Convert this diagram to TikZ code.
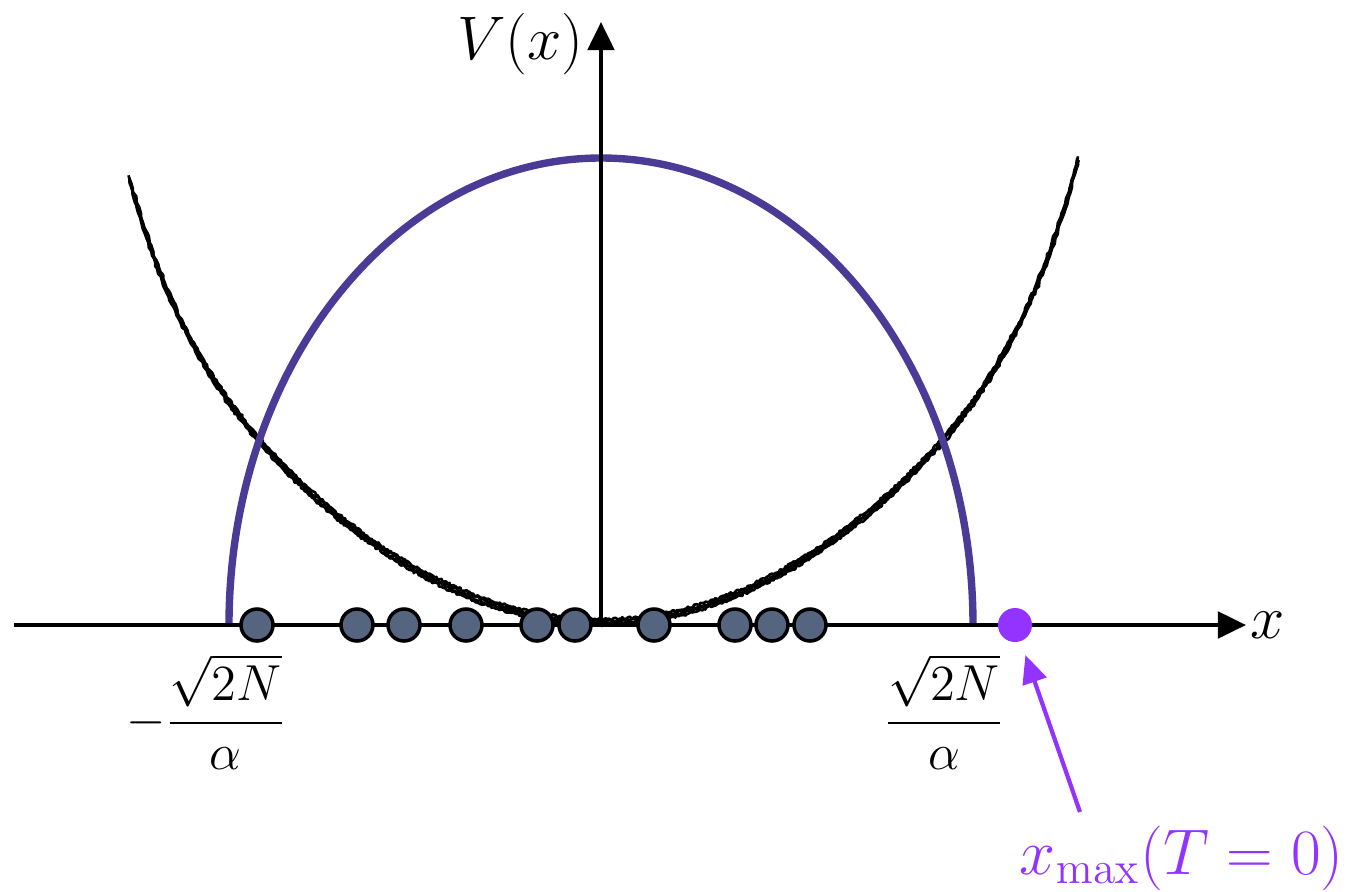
\RequirePackage{fix-cm}
\documentclass[tikz,border=0pt]{standalone}
\usepackage{amsmath}
\usetikzlibrary{arrows.meta, calc, positioning}
\definecolor{mPurple}{HTML}{4B3A96}
\definecolor{mViolet}{HTML}{9233FF}
\definecolor{mSlate}{HTML}{55657F}

\begin{document}
\begin{tikzpicture}[font=\fontsize{17.5}{20}\selectfont,
    axis/.style={line width=1.2pt, -{Triangle[length=8pt, width=7.5pt]}},
    particle/.style={circle, draw=black, line width=1pt, fill=mSlate, inner sep=0pt, minimum size=0.32cm},
    edge/.style={font=\fontsize{14.4}{18}\selectfont},
    pencil/.style={line width=0.75pt, line join=round}]
  \useasboundingbox (-6.01,-2.66) rectangle (7.47,6.25);
  \pgfmathsetseed{7}
  % rough potential
  \foreach \dd in {-0.03, -0.01, 0.01, 0.03}
    \draw[pencil] plot[domain=-4.72:4.77, samples=600]
      (\x+0.01*rand, {0.03+\dd+0.152*\x*\x+1.15*(\x/4.76)^10+0.012*rand});
  % semicircle density
  \draw[mPurple, line width=2.1pt] (3.72,0) arc[start angle=0, end angle=180, x radius=3.72, y radius=4.67];
  % axes
  \coordinate (o) at (0,0);
  \coordinate (xl) at (-5.87,0);
  \coordinate (xr) at (6.45,0);
  \coordinate (yt) at (0,6.03);
  \draw[axis] (xl) -- (xr);
  \draw[axis] (o) -- (yt);
  \node[right=-0.08cm of xr] (xlab) {$x$};
  \node[left=0.05cm of yt, yshift=-0.22cm] (ylab) {$V(x)$};
  % eigenvalues
  \foreach \p [count=\i] in {-3.44, -2.44, -1.97, -1.35, -0.64, -0.26, 0.53, 1.34, 1.71, 2.09}
    \node[particle] (p\i) at (\p,0) {};
  \node[circle, fill=mViolet, inner sep=0pt, minimum size=0.34cm] (xmax) at (4.14,0) {};
  % edges
  \node[edge] (lft) at (-3.95,-0.87) {$-\dfrac{\sqrt{2N}}{\alpha}$};
  \node[edge] (rgt) at (3.43,-0.87) {$\dfrac{\sqrt{2N}}{\alpha}$};
  \node[mViolet, font=\fontsize{18.4}{21}\selectfont] (lab) at (5.81,-2.33) {$x_{\max}(T=0)$};
  \coordinate (tail) at (4.79,-1.87);
  \draw[mViolet, line width=1.2pt, -{Triangle[length=8pt, width=7pt]}, shorten >=4pt] (tail) -- (xmax);
\end{tikzpicture}
\end{document}
